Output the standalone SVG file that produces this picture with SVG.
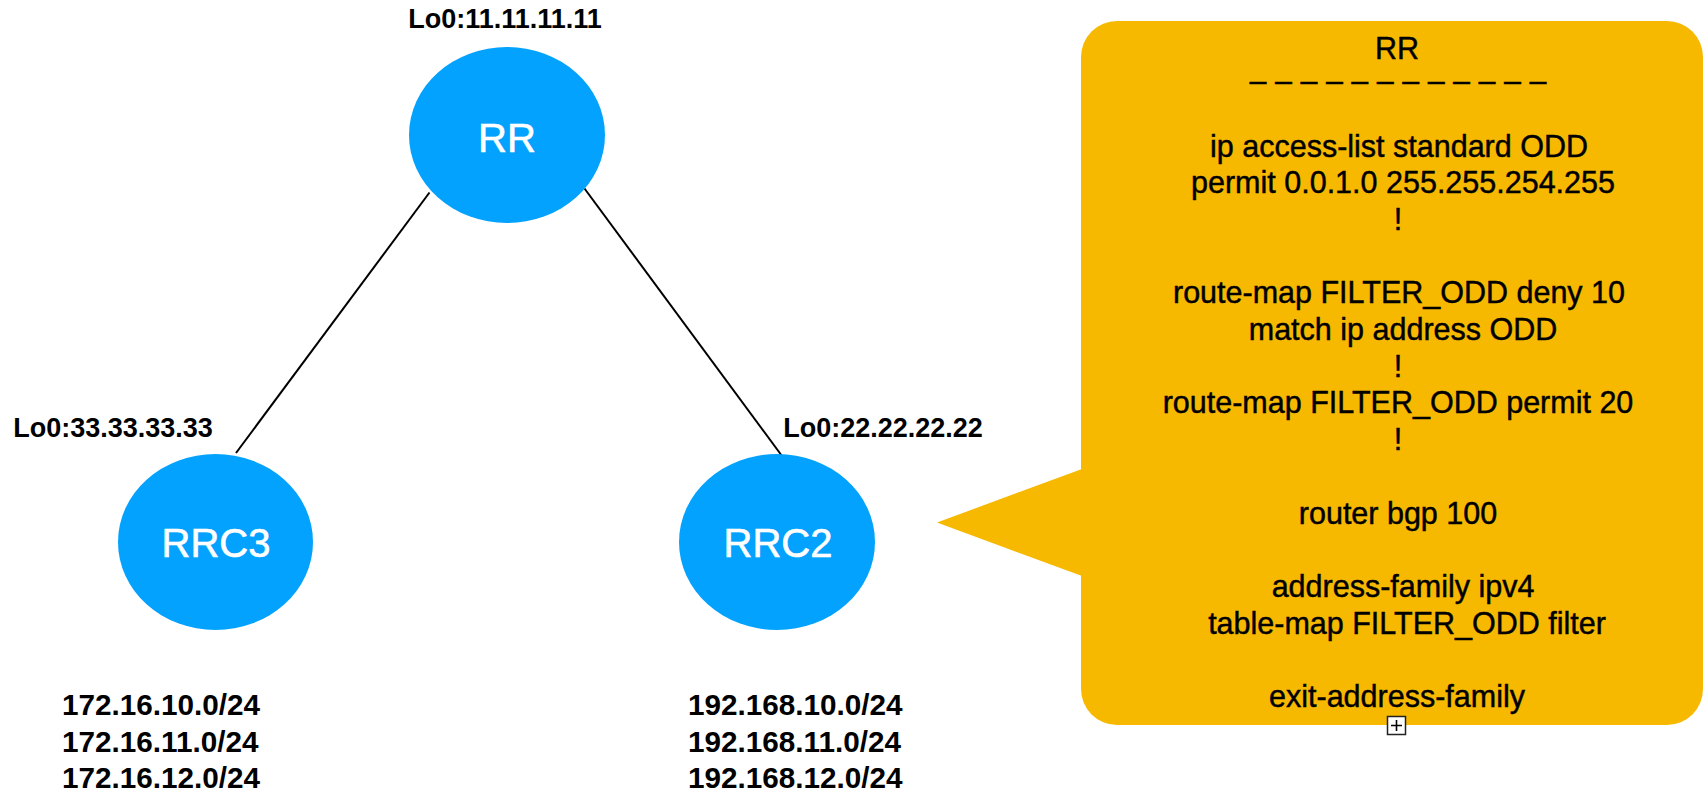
<svg xmlns="http://www.w3.org/2000/svg" width="1704" height="794" viewBox="0 0 1704 794">
  <style>
    .node { fill: #02A2FE; }
    .nlabel { font-family: "Liberation Sans", Arial, Helvetica, sans-serif; font-size: 40px; fill: #ffffff; stroke: #ffffff; stroke-width: 0.6; text-anchor: middle; }
    .lo { font-family: "Liberation Sans", Arial, Helvetica, sans-serif; font-size: 27px; font-weight: bold; fill: #000000; text-anchor: middle; }
    .net { font-family: "Liberation Sans", Arial, Helvetica, sans-serif; font-size: 29.7px; font-weight: bold; fill: #000000; }
    .link { stroke: #000000; stroke-width: 2; fill: none; }
    .callout { fill: #F6B900; }
    .cfg { font-family: "Liberation Sans", Arial, Helvetica, sans-serif; font-size: 30.5px; fill: #000000; stroke: #000000; stroke-width: 0.45; text-anchor: middle; }
  </style>
  <rect width="1704" height="794" fill="#ffffff"/>

  <!-- connectors between route reflector and clients -->
  <g id="connectors">
    <line class="link" x1="429.5" y1="192.5" x2="236" y2="453"/>
    <line class="link" x1="584.5" y1="188.5" x2="782" y2="456"/>
  </g>

  <!-- route reflector -->
  <g id="node-rr">
    <ellipse class="node" cx="507" cy="135" rx="98" ry="88"/>
    <text class="nlabel" x="507" y="152">RR</text>
    <text class="lo" x="505" y="28">Lo0:11.11.11.11</text>
  </g>

  <!-- client RRC3 and its prefixes -->
  <g id="node-rrc3">
    <ellipse class="node" cx="215.5" cy="542" rx="97.5" ry="88"/>
    <text class="nlabel" x="216" y="557">RRC3</text>
    <text class="lo" x="113" y="437">Lo0:33.33.33.33</text>
    <text class="net" x="62" y="715">172.16.10.0/24</text>
    <text class="net" x="62" y="752">172.16.11.0/24</text>
    <text class="net" x="62" y="788">172.16.12.0/24</text>
  </g>

  <!-- client RRC2 and its prefixes -->
  <g id="node-rrc2">
    <ellipse class="node" cx="777" cy="542" rx="98" ry="88"/>
    <text class="nlabel" x="778" y="557">RRC2</text>
    <text class="lo" x="883" y="437">Lo0:22.22.22.22</text>
    <text class="net" x="688" y="715">192.168.10.0/24</text>
    <text class="net" x="688" y="752">192.168.11.0/24</text>
    <text class="net" x="688" y="788">192.168.12.0/24</text>
  </g>

  <!-- configuration callout for RR -->
  <g id="config-callout">
    <rect class="callout" x="1081" y="21" width="622" height="704" rx="36" ry="36"/>
    <polygon class="callout" points="937,522.5 1082,469 1082,576"/>
    <text class="cfg" x="1397" y="59">RR</text>
    <text class="cfg" x="1398" y="91">– – – – – – – – – – – –</text>
    <text class="cfg" x="1399" y="156.5">ip access-list standard ODD</text>
    <text class="cfg" x="1403" y="193">permit 0.0.1.0 255.255.254.255</text>
    <text class="cfg" x="1398" y="229.5">!</text>
    <text class="cfg" x="1399" y="303">route-map FILTER_ODD deny 10</text>
    <text class="cfg" x="1403" y="340">match ip address ODD</text>
    <text class="cfg" x="1398" y="376.5">!</text>
    <text class="cfg" x="1398" y="413">route-map FILTER_ODD permit 20</text>
    <text class="cfg" x="1398" y="450">!</text>
    <text class="cfg" x="1398" y="523.5">router bgp 100</text>
    <text class="cfg" x="1403" y="597">address-family ipv4</text>
    <text class="cfg" x="1407" y="633.5">table-map FILTER_ODD filter</text>
    <text class="cfg" x="1397" y="707">exit-address-family</text>
    <!-- overflow handle -->
    <rect x="1387.5" y="716.5" width="18" height="18" fill="#ffffff" stroke="#222222" stroke-width="1.5"/>
    <path d="M1391 725.5 H1402 M1396.5 720 V731" stroke="#000000" stroke-width="1.6" fill="none"/>
  </g>
</svg>
